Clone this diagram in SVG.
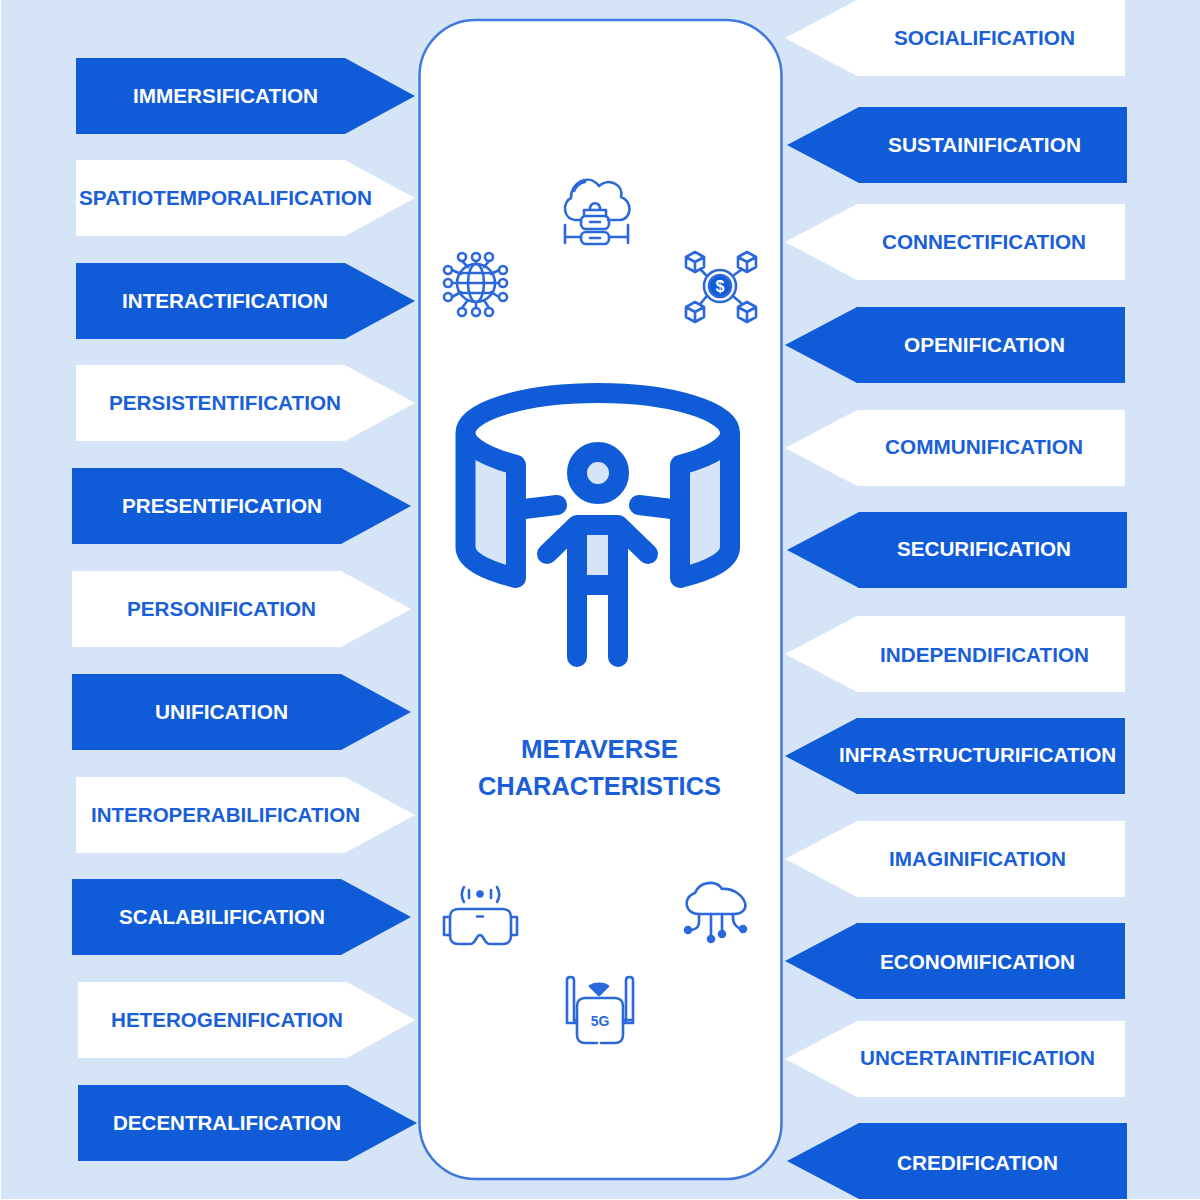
<svg xmlns="http://www.w3.org/2000/svg" width="1200" height="1200" viewBox="0 0 1200 1200">
<style>
.d{fill:#0f5bd8}.w{fill:#fff}
text{font-family:"Liberation Sans",Arial,sans-serif;font-weight:700;font-size:20px;text-anchor:start}
.td{fill:#fff}.tw{fill:#1a5fd8}
.title{fill:#1a5fd8;font-size:25px}
.ln{fill:none;stroke:#0f5bd8;stroke-linecap:round;stroke-linejoin:round}
.big{stroke-width:20}
.ic{stroke:#2a68dc;stroke-width:2.6}
.pale{fill:#d6e4f7}
</style>
<rect width="1200" height="1200" fill="#fff"/>
<rect x="1" width="1199" height="1199" fill="#d6e4f7"/>
<g id="left-arrows">
<g id="immersification"><path class="d" d="M76 58H345L415 96L345 134H76Z"/><text class="td" x="133" y="103" textLength="185" lengthAdjust="spacingAndGlyphs">IMMERSIFICATION</text></g>
<g id="spatiotemporalification"><path class="w" d="M76 160H345L415 198L345 236H76Z"/><text class="tw" x="79" y="205" textLength="293" lengthAdjust="spacingAndGlyphs">SPATIOTEMPORALIFICATION</text></g>
<g id="interactification"><path class="d" d="M76 263H345L415 301L345 339H76Z"/><text class="td" x="122" y="308" textLength="206" lengthAdjust="spacingAndGlyphs">INTERACTIFICATION</text></g>
<g id="persistentification"><path class="w" d="M76 365H345L415 403L345 441H76Z"/><text class="tw" x="109" y="410" textLength="232" lengthAdjust="spacingAndGlyphs">PERSISTENTIFICATION</text></g>
<g id="presentification"><path class="d" d="M72 468H341L411 506L341 544H72Z"/><text class="td" x="122" y="513" textLength="200" lengthAdjust="spacingAndGlyphs">PRESENTIFICATION</text></g>
<g id="personification"><path class="w" d="M72 571H341L411 609L341 647H72Z"/><text class="tw" x="127" y="616" textLength="189" lengthAdjust="spacingAndGlyphs">PERSONIFICATION</text></g>
<g id="unification"><path class="d" d="M72 674H341L411 712L341 750H72Z"/><text class="td" x="155" y="719" textLength="133" lengthAdjust="spacingAndGlyphs">UNIFICATION</text></g>
<g id="interoperabilification"><path class="w" d="M76 777H345L415 815L345 853H76Z"/><text class="tw" x="91" y="822" textLength="269" lengthAdjust="spacingAndGlyphs">INTEROPERABILIFICATION</text></g>
<g id="scalabilification"><path class="d" d="M72 879H341L411 917L341 955H72Z"/><text class="td" x="119" y="924" textLength="206" lengthAdjust="spacingAndGlyphs">SCALABILIFICATION</text></g>
<g id="heterogenification"><path class="w" d="M78 982H347L415 1020L347 1058H78Z"/><text class="tw" x="111" y="1027" textLength="232" lengthAdjust="spacingAndGlyphs">HETEROGENIFICATION</text></g>
<g id="decentralification"><path class="d" d="M78 1085H347L417 1123L347 1161H78Z"/><text class="td" x="113" y="1130" textLength="228" lengthAdjust="spacingAndGlyphs">DECENTRALIFICATION</text></g>
</g>
<g id="right-arrows">
<g id="socialification"><path class="w" d="M785 38L857 0H1125V76H857Z"/><text class="tw" x="894" y="45" textLength="181" lengthAdjust="spacingAndGlyphs">SOCIALIFICATION</text></g>
<g id="sustainification"><path class="d" d="M787 145L859 107H1127V183H859Z"/><text class="td" x="888" y="152" textLength="193" lengthAdjust="spacingAndGlyphs">SUSTAINIFICATION</text></g>
<g id="connectification"><path class="w" d="M785 242L857 204H1125V280H857Z"/><text class="tw" x="882" y="249" textLength="204" lengthAdjust="spacingAndGlyphs">CONNECTIFICATION</text></g>
<g id="openification"><path class="d" d="M785 345L857 307H1125V383H857Z"/><text class="td" x="904" y="352" textLength="161" lengthAdjust="spacingAndGlyphs">OPENIFICATION</text></g>
<g id="communification"><path class="w" d="M785 448L857 410H1125V486H857Z"/><text class="tw" x="885" y="454" textLength="198" lengthAdjust="spacingAndGlyphs">COMMUNIFICATION</text></g>
<g id="securification"><path class="d" d="M787 550L859 512H1127V588H859Z"/><text class="td" x="897" y="556" textLength="174" lengthAdjust="spacingAndGlyphs">SECURIFICATION</text></g>
<g id="independification"><path class="w" d="M785 654L857 616H1125V692H857Z"/><text class="tw" x="880" y="662" textLength="209" lengthAdjust="spacingAndGlyphs">INDEPENDIFICATION</text></g>
<g id="infrastructurification"><path class="d" d="M785 756L857 718H1125V794H857Z"/><text class="td" x="839" y="762" textLength="277" lengthAdjust="spacingAndGlyphs">INFRASTRUCTURIFICATION</text></g>
<g id="imaginification"><path class="w" d="M785 859L857 821H1125V897H857Z"/><text class="tw" x="889" y="866" textLength="177" lengthAdjust="spacingAndGlyphs">IMAGINIFICATION</text></g>
<g id="economification"><path class="d" d="M785 961L857 923H1125V999H857Z"/><text class="td" x="880" y="969" textLength="195" lengthAdjust="spacingAndGlyphs">ECONOMIFICATION</text></g>
<g id="uncertaintification"><path class="w" d="M785 1059L857 1021H1125V1097H857Z"/><text class="tw" x="860" y="1065" textLength="235" lengthAdjust="spacingAndGlyphs">UNCERTAINTIFICATION</text></g>
<g id="credification"><path class="d" d="M787 1161L859 1123H1127V1199H859Z"/><text class="td" x="897" y="1170" textLength="161" lengthAdjust="spacingAndGlyphs">CREDIFICATION</text></g>
</g>
<g id="center-panel">
<rect x="419.500" y="20" width="362" height="1159" rx="56" fill="#fff" stroke="#3f78e0" stroke-width="2.500"/>
<text class="title" x="521" y="758" textLength="157" lengthAdjust="spacingAndGlyphs">METAVERSE</text>
<text class="title" x="478" y="795" textLength="243" lengthAdjust="spacingAndGlyphs">CHARACTERISTICS</text>
</g>
<g id="icon-person">
<path class="pale" d="M468 445L512 465V572L468 552ZM728 445L684 465V572L728 552ZM587 535H608V575H587Z"/>
<circle class="pale" cx="598" cy="473" r="11"/>
<path class="ln big" d="M465.500 433C465.500 411 525 393 598 393C671 393 730 411 730 433C730 447 706 458 680 465V578C712 570 730 560 730 547V433M465.500 433C465.500 447 490 458 516 465V578C484 570 465.500 560 465.500 547V433M516 510L557 505M680 510L639 505"/>
<circle class="ln big" cx="598" cy="473" r="21"/>
<path class="ln big" d="M547 554L577 525H618L648 554M577 525V657M618 525V657M577 585H618"/>
</g>
<g id="icon-cloud-server" class="ln ic">
<path d="M581 220H575C563 219 562 202 571 198C570 184 588 172 599 186C609 177 624 185 621 197C633 201 632 219 620 220H608"/>
<path d="M574 191C576 186 580 183 585 182"/>
<rect x="581" y="216" width="28" height="13" rx="5"/>
<rect x="581" y="232" width="28" height="12" rx="5"/>
<path d="M584 216V210H606V216M590 210C589 201 601 201 600 210M565 225V243M628 225V243M565 237H581M609 237H628M590 222H600M590 238H600"/>
</g>
<g id="icon-globe" class="ln ic">
<circle cx="476" cy="283" r="19"/>
<ellipse cx="476" cy="283" rx="8" ry="19"/>
<path d="M457 283H495M460 273H492M460 293H492"/>
<circle cx="462" cy="257" r="4"/><circle cx="476" cy="257" r="4"/><circle cx="489" cy="257" r="4"/>
<circle cx="462" cy="312" r="4"/><circle cx="476" cy="312" r="4"/><circle cx="489" cy="312" r="4"/>
<circle cx="448" cy="270" r="4"/><circle cx="448" cy="283" r="4"/><circle cx="448" cy="297" r="4"/>
<circle cx="503" cy="270" r="4"/><circle cx="503" cy="283" r="4"/><circle cx="503" cy="297" r="4"/>
<path d="M476 261V264M476 302V308M462 261L468 267M489 261L484 267M462 308L468 300M489 308L484 300M452 283H457M495 283H499M452 270L461 274M499 270L491 274M452 297L461 292M499 297L491 292"/>
</g>
<g id="icon-crypto" class="ln ic">
<circle cx="720" cy="286" r="16"/>
<circle cx="720" cy="286" r="11" fill="#0f5bd8"/>
<path d="M706 275L701 270M734 275L741 270M706 297L701 303M734 297L741 303"/>
<path d="M695 252L704 257V267L695 272L686 267V257ZM686 257L695 262L704 257M695 262V272"/>
<path d="M747 252L756 257V267L747 272L738 267V257ZM738 257L747 262L756 257M747 262V272"/>
<path d="M695 302L704 307V317L695 322L686 317V307ZM686 307L695 312L704 307M695 312V322"/>
<path d="M747 302L756 307V317L747 322L738 317V307ZM738 307L747 312L756 307M747 312V322"/>
<text x="720" y="292" style="font-size:16px;text-anchor:middle;fill:#fff;stroke:none">$</text>
</g>
<g id="icon-vr" class="ln ic">
<path d="M458 909H503C508 909 511 912 511 917V936C511 941 508 944 503 944H490C484 944 484 935 480 935C476 935 476 944 470 944H458C453 944 450 941 450 936V917C450 912 453 909 458 909Z"/>
<path d="M450 917H444V935H450M511 917H517V935H511M477 916.500H483M469 890V898M491 890V898M464 887C461 892 461 897 464 902M497 887C500 892 500 897 497 902"/>
<circle cx="480" cy="894" r="2.500" fill="#2a68dc"/>
</g>
<g id="icon-cloud-network" class="ln ic">
<path d="M698 914C685 914 682 897 695 893C699 882 716 879 722 889C734 888 743 896 745 903C747 910 741 914 734 914Z"/>
<path d="M711 914V936M722 914V930M699 914V922C699 928 694 930 690 930M733 914V918C733 924 738 929 742 929"/>
<circle cx="711" cy="939" r="3" fill="#2a68dc"/><circle cx="722" cy="934" r="3" fill="#2a68dc"/><circle cx="688" cy="930" r="3" fill="#2a68dc"/><circle cx="743" cy="929" r="3" fill="#2a68dc"/>
</g>
<g id="icon-5g" class="ln ic">
<path d="M597 1043H585C580 1043 577 1040 577 1035V1006C577 1001 580 998 585 998H615C620 998 623 1001 623 1006V1035C623 1040 620 1043 615 1043H601"/>
<path d="M567 980C567 976 574 976 574 980V1023H567ZM626 980C626 976 633 976 633 980V1023H626ZM567 1023H577M574 1020H577M623 1020H633M623 1023H633"/>
<path d="M590 986C595 983 603 983 608 986L599 995Z" fill="#2a68dc"/>
<text x="600" y="1026" style="font-size:14px;text-anchor:middle;fill:#2a68dc;stroke:none">5G</text>
</g>
</svg>
